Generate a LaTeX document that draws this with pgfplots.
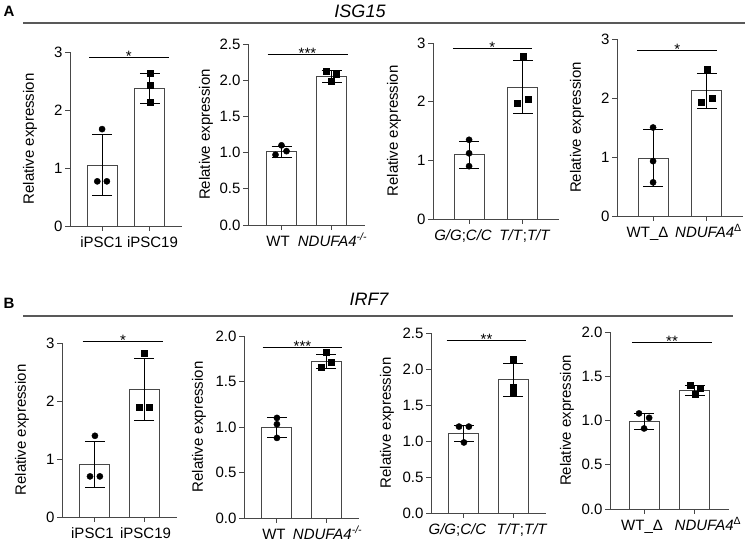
\documentclass[border=0pt]{standalone}
\usepackage{fontspec}
\setmainfont{Liberation Sans}
\usepackage{pgfplots}
\pgfplotsset{compat=1.18}
\newcommand{\tf}{\fontsize{15}{17}\selectfont}
\newcommand{\sh}[2]{\hspace*{#1}#2\hspace*{-#1}}
\pgfplotsset{
  panel/.style={
    scale only axis, clip=false,
    anchor=south west,
    axis x line*=bottom, axis y line*=left,
    xmin=0.33, xmax=2.67, ymin=0,
    xtick={1,2},
    tick align=outside, major tick length=5pt,
    axis line style={draw=black!72, line width=0.9pt},
    every tick/.style={draw=black!72, line width=0.9pt},
    tick label style={font=\tf},
    /pgf/number format/assume math mode=true,
    xticklabel style={text height=11pt, text depth=3pt, yshift=-1.5pt},
    yticklabel style={xshift=1pt},
  },
  dec/.style={yticklabel style={/pgf/number format/.cd, fixed, fixed zerofill, precision=1}},
  barst/.style={ybar, bar width=30pt, fill=white, draw=black!72, line width=0.9pt},
  errst/.style={draw=none, mark=none, forget plot,
    error bars/.cd, y dir=both, y explicit,
    error bar style={black, line width=0.9pt},
    error mark options={rotate=90, mark size=10pt, black, line width=0.9pt}},
  circst/.style={only marks, mark=*, mark size=3.1pt, black},
  sqst/.style={only marks, mark=square*, mark size=3pt, black},
  sigst/.style={black, line width=0.9pt},
}
\newcommand{\ylab}[1]{\node[rotate=90, font=\tf] at ([xshift=-#1pt]rel axis cs:0,0.5) {Relative expression};}
\newcommand{\ND}[1]{\textit{NDUFA4}\textsuperscript{#1}}
\begin{document}
\begin{tikzpicture}
\useasboundingbox (0,0) rectangle (747pt,540pt);
% headers
\node[font=\fontsize{15}{17}\selectfont\bfseries] at (9pt,529pt) {A};
\draw[black!65, line width=1.1pt] (23pt,517pt) -- (745pt,517pt);
\node[font=\fontsize{18}{20}\selectfont\itshape] at (360pt,529pt) {ISG15};
\node[font=\fontsize{15}{17}\selectfont\bfseries] at (9pt,237pt) {B};
\draw[black!65, line width=1.1pt] (23pt,224pt) -- (733pt,224pt);
\node[font=\fontsize{18}{20}\selectfont\itshape] at (369pt,241pt) {IRF7};

% A1
\begin{axis}[panel, at={(70pt,314pt)}, width=112pt, height=174pt, ymax=3, ytick={0,1,2,3},
  xticklabels={\sh{-0.5pt}{iPSC1}, \sh{2.5pt}{iPSC19}}]
\addplot[barst] coordinates {(1,1.05) (2,2.37)};
\addplot[errst] coordinates {(1,1.05) +- (0,0.52) (2,2.37) +- (0,0.26)};
\addplot[circst] coordinates {(0.9,0.77) (1.1,0.77) (1,1.67)};
\addplot[sqst] coordinates {(2,2.63) (2,2.43) (2,2.13)};
\addplot[sigst] coordinates {(0.73,2.91) (2.4,2.91)};
\node[font=\tf, anchor=base, yshift=-4pt] at (axis cs:1.56,2.91) {*};
\ylab{40}
\end{axis}

% A2
\begin{axis}[panel, dec, at={(248pt,315pt)}, width=117pt, height=181pt, ymax=2.5, ytick={0,0.5,1,1.5,2,2.5},
  xticklabels={\sh{-3.5pt}{WT}, \sh{1pt}{\ND{\textit{-/-}}}}]
\addplot[barst] coordinates {(1,1.01) (2,2.05)};
\addplot[errst] coordinates {(1,1.01) +- (0,0.08) (2,2.05) +- (0,0.08)};
\addplot[circst] coordinates {(0.88,0.97) (1,1.1) (1.1,1.02)};
\addplot[sqst] coordinates {(1.9,2.13) (2.1,2.08) (2,1.98)};
\addplot[sigst] coordinates {(0.72,2.35) (2.32,2.35)};
\node[font=\tf, anchor=base, yshift=-4pt] at (axis cs:1.52,2.35) {***};
\ylab{42}
\end{axis}

% A3
\begin{axis}[panel, at={(433pt,321pt)}, width=126pt, height=176pt, ymax=3, ytick={0,1,2,3},
  xticklabels={\sh{-6pt}{\textit{G/G};\textit{C/C}}, \sh{2pt}{\textit{T/T};\textit{T/T}}}]
\addplot[barst] coordinates {(1,1.1) (2,2.25)};
\addplot[errst] coordinates {(1,1.1) +- (0,0.23) (2,2.25) +- (0,0.45)};
\addplot[circst] coordinates {(1,1.35) (1,1.12) (1,0.9)};
\addplot[sqst] coordinates {(2,2.78) (2.1,2.05) (1.9,1.97)};
\addplot[sigst] coordinates {(0.7,2.9) (2.17,2.9)};
\node[font=\tf, anchor=base, yshift=-4pt] at (axis cs:1.43,2.9) {*};
\ylab{39}
\end{axis}

% A4
\begin{axis}[panel, at={(617pt,324pt)}, width=126pt, height=177pt, ymax=3, ytick={0,1,2,3},
  xticklabels={\sh{-5.5pt}{WT\_Δ}, \sh{1.5pt}{\ND{Δ}}}]
\addplot[barst] coordinates {(1,0.98) (2,2.12)};
\addplot[errst] coordinates {(1,0.98) +- (0,0.48) (2,2.12) +- (0,0.3)};
\addplot[circst] coordinates {(1,1.5) (1,0.93) (1,0.57)};
\addplot[sqst] coordinates {(2,2.48) (2.1,2.0) (1.9,1.93)};
\addplot[sigst] coordinates {(0.7,2.81) (2.19,2.81)};
\node[font=\tf, anchor=base, yshift=-4pt] at (axis cs:1.45,2.81) {*};
\ylab{40}
\end{axis}

% B1
\begin{axis}[panel, at={(62pt,23pt)}, width=115pt, height=174pt, ymax=3, ytick={0,1,2,3},
  xticklabels={\sh{-2.5pt}{iPSC1}, \sh{1.5pt}{iPSC19}}]
\addplot[barst] coordinates {(1,0.91) (2,2.2)};
\addplot[errst] coordinates {(1,0.91) +- (0,0.4) (2,2.2) +- (0,0.53)};
\addplot[circst] coordinates {(1,1.4) (0.9,0.7) (1.1,0.7)};
\addplot[sqst] coordinates {(2,2.83) (1.9,1.9) (2.1,1.9)};
\addplot[sigst] coordinates {(0.75,3.03) (2.39,3.03)};
\node[font=\tf, anchor=base, yshift=-4pt] at (axis cs:1.57,3.03) {*};
\ylab{40}
\end{axis}

% B2
\begin{axis}[panel, dec, at={(244pt,22pt)}, width=115pt, height=182pt, ymax=2, ytick={0,0.5,1,1.5,2},
  xticklabels={\sh{-3pt}{WT}, \sh{1.5pt}{\ND{\textit{-/-}}}}]
\addplot[barst] coordinates {(1,0.99) (2,1.72)};
\addplot[errst] coordinates {(1,0.99) +- (0,0.11) (2,1.72) +- (0,0.08)};
\addplot[circst] coordinates {(1,1.1) (1,1.03) (1,0.88)};
\addplot[sqst] coordinates {(2,1.82) (2.1,1.71) (1.9,1.66)};
\addplot[sigst] coordinates {(0.71,1.87) (2.33,1.87)};
\node[font=\tf, anchor=base, yshift=-4pt] at (axis cs:1.52,1.87) {***};
\ylab{45}
\end{axis}

% B3
\begin{axis}[panel, dec, at={(431pt,27pt)}, width=115pt, height=180pt, ymax=2.5, ytick={0,0.5,1,1.5,2,2.5},
  xticklabels={\sh{-6.5pt}{\textit{G/G};\textit{C/C}}, \sh{9pt}{\textit{T/T};\textit{T/T}}}]
\addplot[barst] coordinates {(1,1.1) (2,1.85)};
\addplot[errst] coordinates {(1,1.1) +- (0,0.11) (2,1.85) +- (0,0.23)};
\addplot[circst] coordinates {(0.9,1.2) (1.1,1.2) (1,0.98)};
\addplot[sqst] coordinates {(2,2.13) (2,1.75) (2,1.68)};
\addplot[sigst] coordinates {(0.65,2.39) (2.27,2.39)};
\node[font=\tf, anchor=base, yshift=-4pt] at (axis cs:1.46,2.39) {**};
\ylab{44}
\end{axis}

% B4
\begin{axis}[panel, dec, at={(610pt,31pt)}, width=119pt, height=177pt, ymax=2, ytick={0,0.5,1,1.5,2},
  xticklabels={\sh{-2pt}{WT\_Δ}, \sh{13pt}{\ND{Δ}}}]
\addplot[barst] coordinates {(1,0.99) (2,1.34)};
\addplot[errst] coordinates {(1,0.99) +- (0,0.09) (2,1.34) +- (0,0.06)};
\addplot[circst] coordinates {(0.9,1.08) (1.1,1.03) (1,0.91)};
\addplot[sqst] coordinates {(1.9,1.4) (2.1,1.36) (2,1.3)};
\addplot[sigst] coordinates {(0.76,1.88) (2.33,1.88)};
\node[font=\tf, anchor=base, yshift=-4pt] at (axis cs:1.55,1.88) {**};
\ylab{43}
\end{axis}
\end{tikzpicture}
\end{document}
